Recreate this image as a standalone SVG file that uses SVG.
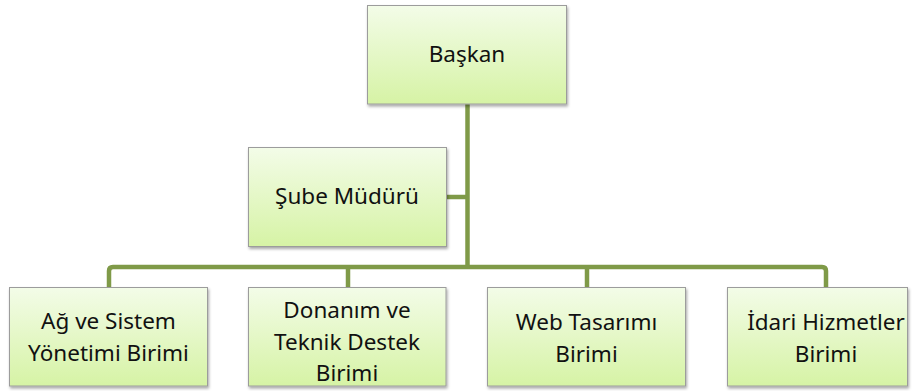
<svg xmlns="http://www.w3.org/2000/svg" width="916" height="391" viewBox="0 0 916 391">
<defs>
<linearGradient id="g" x1="0" y1="0" x2="0" y2="1">
<stop offset="0" stop-color="#F3FCE8"/>
<stop offset="1" stop-color="#D6F3A5"/>
</linearGradient>
<filter id="sh" x="-10%" y="-10%" width="120%" height="130%">
<feDropShadow dx="1" dy="2" stdDeviation="1.5" flood-color="#000" flood-opacity="0.35"/>
</filter>
</defs>
<style>
.box{fill:url(#g);stroke:#9C9C9C;stroke-width:1;filter:url(#sh)}
.t{font-family:"Noto Sans","Open Sans",sans-serif;font-size:22.5px;fill:#111;text-anchor:middle}
.c{fill:none;stroke:#7F9A48;stroke-width:4.5;stroke-linejoin:round}
</style>
<g id="connectors">
<path class="c" d="M467.5,104 V267"/>
<path class="c" d="M447,197 H467.5"/>
<path class="c" d="M109,287 V271 Q109,267 113,267 H822 Q826,267 826,271 V287"/>
<path class="c" d="M348,267 V287"/>
<path class="c" d="M587,267 V287"/>
</g>
<g id="baskan">
<rect class="box" x="367.5" y="5.5" width="199" height="98.5"/>
<text class="t" x="467" y="62">Başkan</text>
</g>
<g id="sube">
<rect class="box" x="248.5" y="147.5" width="198" height="99"/>
<text class="t" x="347" y="204">Şube Müdürü</text>
</g>
<g id="ag">
<rect class="box" x="9.5" y="287.5" width="198" height="98.5"/>
<text class="t" x="108.5" y="329">Ağ ve Sistem</text>
<text class="t" x="108.5" y="361">Yönetimi Birimi</text>
</g>
<g id="donanim">
<rect class="box" x="248.5" y="287.5" width="197.5" height="98.5"/>
<text class="t" x="347" y="318">Donanım ve</text>
<text class="t" x="347" y="349.5">Teknik Destek</text>
<text class="t" x="347" y="381">Birimi</text>
</g>
<g id="web">
<rect class="box" x="487.5" y="287.5" width="198" height="98.5"/>
<text class="t" x="586.5" y="330">Web Tasarımı</text>
<text class="t" x="586.5" y="362">Birimi</text>
</g>
<g id="idari">
<rect class="box" x="727.5" y="287.5" width="180" height="98.5"/>
<text class="t" x="826" y="330">İdari Hizmetler</text>
<text class="t" x="826" y="362">Birimi</text>
</g>
</svg>
